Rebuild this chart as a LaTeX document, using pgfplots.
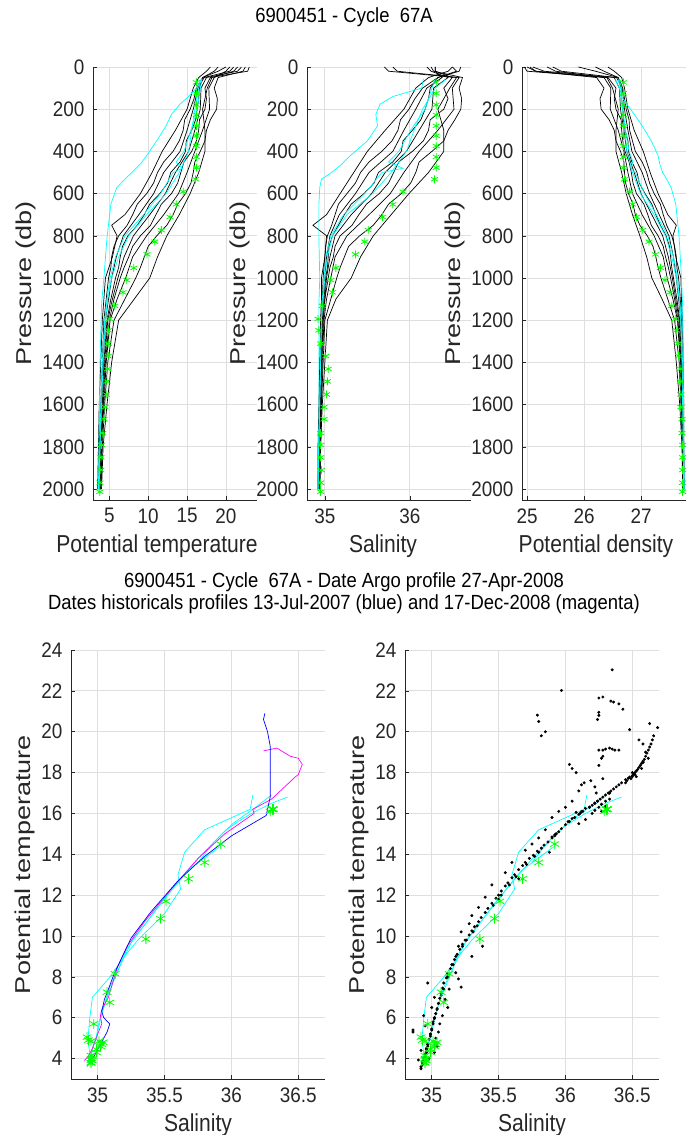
\documentclass[border=0pt]{standalone}
\usepackage{fontspec}
\setmainfont{Liberation Sans}
\newfontfamily\tickfont{Liberation Sans}[FakeStretch=0.9]
\newfontfamily\labfont{Liberation Sans}[FakeStretch=0.86]
\newfontfamily\ylabfont{Liberation Sans}[FakeStretch=1.26]
\newfontfamily\titfont{Liberation Sans}[FakeStretch=0.9]
\usepackage{pgfplots}
\pgfplotsset{compat=1.18}
\usepackage{pgfplotstable}

\definecolor{axgray}{RGB}{38,38,38}
\definecolor{gridgray}{RGB}{223,223,223}
\definecolor{stargreen}{RGB}{0,255,0}
\definecolor{mcyan}{RGB}{0,255,255}
\definecolor{mblue}{RGB}{0,0,255}
\definecolor{mmagenta}{RGB}{255,0,255}

% ---------- historical profiles (black) ----------
\pgfplotstableread{
P T S D
0 18.0 36.50 26.42
20 17.5 36.45 26.53
50 16.5 36.22 26.66
100 15.8 36.07 26.71
200 15.0 35.93 26.77
300 13.5 35.71 26.88
400 11.8 35.50 27.04
500 10.5 35.34 27.16
600 9.0 35.18 27.30
700 7.0 35.02 27.47
750 5.3 34.86 27.62
800 6.0 35.02 27.56
900 5.4 35.00 27.61
1000 4.5 34.96 27.70
1100 4.3 34.96 27.71
1200 4.1 34.95 27.73
1400 3.9 34.94 27.74
1600 3.7 34.93 27.75
1800 3.6 34.92 27.75
2000 3.5 34.92 27.76
}\bA
\pgfplotstableread{
P T S D
0 20.0 36.50 25.90
20 19.0 36.55 26.20
50 17.0 36.33 26.60
100 16.2 36.15 26.68
150 15.9 36.06 26.71
200 15.4 35.99 26.74
250 14.7 35.89 26.79
300 14.5 35.86 26.80
350 14.0 35.79 26.85
400 13.2 35.67 26.90
450 12.0 35.52 27.02
500 11.2 35.42 27.10
550 10.7 35.36 27.15
600 9.8 35.26 27.23
650 8.6 35.16 27.34
700 8.0 35.12 27.39
750 7.3 35.08 27.45
800 6.2 35.03 27.54
850 5.6 35.01 27.59
900 5.3 35.00 27.62
950 5.2 34.99 27.63
1000 4.9 34.98 27.66
1100 4.6 34.97 27.69
1200 4.3 34.96 27.71
1400 4.1 34.95 27.73
1600 3.9 34.94 27.74
1800 3.7 34.93 27.75
2000 3.6 34.92 27.75
}\bB
\pgfplotstableread{
P T S D
0 21.0 36.30 25.45
20 20.5 36.30 25.60
50 17.2 36.38 26.57
100 16.4 36.20 26.67
200 15.8 36.07 26.71
300 15.0 35.93 26.77
400 14.1 35.80 26.84
500 12.0 35.52 27.02
600 10.7 35.36 27.15
700 8.8 35.17 27.32
800 6.8 35.06 27.49
900 5.9 35.02 27.57
1000 5.3 35.00 27.62
1100 4.9 34.98 27.66
1200 4.5 34.96 27.70
1400 4.2 34.95 27.72
1600 4.0 34.94 27.73
1800 3.8 34.93 27.74
2000 3.7 34.93 27.75
}\bC
\pgfplotstableread{
P T S D
0 19.0 36.60 26.20
20 18.5 36.58 26.35
50 17.0 36.33 26.60
100 16.6 36.24 26.65
150 16.5 36.22 26.66
200 16.3 36.18 26.68
250 16.1 36.13 26.69
300 15.6 36.03 26.72
350 14.9 35.92 26.77
400 14.8 35.90 26.78
450 14.1 35.80 26.84
500 12.9 35.63 26.93
550 12.5 35.58 26.97
600 11.5 35.46 27.07
650 10.2 35.31 27.19
700 9.5 35.23 27.26
750 8.6 35.16 27.34
800 7.4 35.09 27.44
850 6.7 35.05 27.50
900 6.4 35.04 27.52
950 6.2 35.03 27.54
1000 5.8 35.01 27.57
1100 5.2 34.99 27.63
1200 4.7 34.97 27.68
1400 4.3 34.96 27.71
1600 4.1 34.95 27.73
1800 3.9 34.94 27.74
2000 3.8 34.93 27.74
}\bD
\pgfplotstableread{
P T S D
0 22.0 36.20 25.10
20 21.5 36.25 25.30
50 17.5 36.45 26.53
100 16.8 36.28 26.62
200 16.7 36.26 26.64
300 16.0 36.11 26.70
400 15.2 35.96 26.75
500 13.5 35.71 26.88
600 12.2 35.55 27.00
700 10.2 35.31 27.19
800 8.1 35.12 27.38
900 6.9 35.06 27.48
1000 6.1 35.02 27.55
1100 5.4 35.00 27.61
1200 4.8 34.98 27.67
1400 4.4 34.96 27.70
1600 4.2 34.95 27.72
1800 3.9 34.94 27.74
2000 3.8 34.93 27.74
}\bE
\pgfplotstableread{
P T S D
0 23.0 36.30 24.95
20 22.8 36.30 25.00
50 18.0 36.50 26.42
100 17.3 36.40 26.56
150 17.5 36.45 26.53
200 17.3 36.40 26.56
250 16.6 36.24 26.65
300 16.5 36.22 26.66
350 16.2 36.16 26.68
400 15.6 36.03 26.72
450 14.6 35.87 26.79
500 14.2 35.81 26.83
550 13.8 35.75 26.86
600 13.0 35.64 26.92
650 11.7 35.49 27.05
700 11.0 35.40 27.12
750 10.3 35.32 27.18
800 9.0 35.18 27.30
850 8.0 35.12 27.39
900 7.5 35.10 27.43
950 6.9 35.06 27.48
1000 6.4 35.04 27.52
1100 5.6 35.00 27.59
1200 5.0 34.98 27.65
1400 4.5 34.96 27.70
1600 4.2 34.95 27.72
1800 4.0 34.94 27.73
2000 3.9 34.94 27.74
}\bF
\pgfplotstableread{
P T S D
0 20.5 35.80 25.35
20 20.0 35.85 25.50
50 18.5 36.58 26.35
100 17.8 36.50 26.47
200 17.9 36.52 26.46
300 17.0 36.33 26.60
400 16.0 36.11 26.70
500 15.0 35.93 26.77
600 13.9 35.77 26.85
700 12.0 35.52 27.02
800 9.8 35.26 27.23
900 8.0 35.12 27.39
1000 7.1 35.07 27.46
1100 6.0 35.02 27.56
1200 5.1 34.99 27.64
1400 4.6 34.97 27.69
1600 4.3 34.96 27.71
1800 4.0 34.94 27.73
2000 3.9 34.94 27.74
}\bG
\pgfplotstableread{
P T S D
0 22.5 36.25 25.05
20 22.2 36.28 25.15
50 19.0 36.62 26.22
100 18.5 36.58 26.35
150 18.9 36.61 26.28
200 18.8 36.60 26.30
250 18.0 36.53 26.44
300 17.5 36.45 26.53
350 17.3 36.40 26.56
400 16.7 36.26 26.64
450 16.0 36.11 26.70
500 15.8 36.07 26.71
550 15.5 36.01 26.73
600 14.8 35.90 26.78
650 13.8 35.75 26.86
700 13.2 35.67 26.90
750 12.4 35.57 26.98
800 11.1 35.41 27.11
850 10.0 35.28 27.21
900 9.5 35.23 27.26
950 9.0 35.18 27.30
1000 8.4 35.14 27.35
1100 7.0 35.07 27.47
1200 5.6 35.00 27.59
1400 4.8 34.98 27.67
1600 4.4 34.96 27.70
1800 4.1 34.95 27.73
2000 3.9 34.94 27.74
}\bH
\pgfplotstableread{
P T S D
0 21.5 35.70 25.00
20 21.0 35.75 25.15
50 18.2 36.55 26.40
100 17.6 36.47 26.50
200 17.0 36.33 26.60
300 17.3 36.40 26.56
400 17.3 36.40 26.56
500 16.5 36.22 26.66
600 15.4 35.99 26.74
700 14.0 35.78 26.85
800 12.4 35.57 26.98
900 11.2 35.42 27.10
1000 10.2 35.31 27.19
1100 8.2 35.13 27.37
1200 6.2 35.03 27.54
1400 5.3 35.00 27.62
1600 4.7 34.97 27.68
1800 4.2 34.95 27.72
2000 4.0 34.94 27.73
}\bI
% ---------- nearest profiles (cyan) ----------
\pgfplotstableread{
P T S D
55 16.9 36.16 26.61
100 16.2 36.14 26.66
140 15.2 35.80 26.66
176 14.1 35.65 26.75
224 13.0 35.60 26.88
279 12.3 35.62 27.02
350 11.1 35.50 27.18
420 9.8 35.30 27.30
460 9.0 35.20 27.33
500 7.9 35.08 27.38
532 7.0 34.96 27.45
572 5.95 34.94 27.53
650 5.2 34.93 27.61
809 4.7 34.93 27.67
1000 4.3 34.94 27.71
1126 4.0 34.93 27.73
1400 3.8 34.93 27.74
1700 3.7 34.93 27.75
2000 3.6 34.92 27.76
}\cA
\pgfplotstableread{
P T S D
60 16.8 36.42 26.55
100 16.5 36.30 26.62
200 16.0 36.15 26.68
300 15.6 36.05 26.72
400 15.2 35.96 26.75
500 14.0 35.78 26.85
600 12.3 35.56 26.99
700 9.8 35.26 27.23
800 7.5 35.09 27.43
900 6.2 35.03 27.54
1000 5.3 35.00 27.62
1100 4.8 34.98 27.67
1200 4.5 34.96 27.70
1400 4.2 34.95 27.72
1600 4.0 34.94 27.73
1800 3.8 34.93 27.74
2000 3.6 34.92 27.75
}\cB
\pgfplotstableread{
P T S D
60 16.9 36.30 26.60
100 16.7 36.26 26.64
200 16.3 36.18 26.68
300 15.5 36.01 26.73
400 14.6 35.87 26.79
450 13.6 35.75 26.86
480 14.4 35.92 26.82
500 13.2 35.67 26.90
600 11.6 35.47 27.06
700 9.4 35.22 27.27
800 7.0 35.07 27.47
900 5.8 35.01 27.57
1000 5.1 34.99 27.64
1100 4.7 34.97 27.68
1200 4.4 34.96 27.70
1400 4.1 34.95 27.73
1600 3.9 34.94 27.74
1800 3.8 34.93 27.74
2000 3.7 34.93 27.75
}\cC
% ---------- Argo profile (green stars) ----------
\pgfplotstableread{
P T S D
73 16.2 36.31 26.69
125 16.2 36.31 26.69
179 16.2 36.31 26.69
227 16.2 36.31 26.69
279 16.2 36.31 26.69
326 16.2 36.31 26.69
374 16.2 36.31 26.69
426 16.2 36.31 26.69
477 16.2 36.31 26.69
532 16.1 36.29 26.71
591 14.5 35.92 26.80
651 13.6 35.80 26.85
711 12.8 35.68 26.92
773 11.7 35.51 27.03
828 10.85 35.47 27.14
888 9.85 35.36 27.25
952 8.15 35.13 27.34
1010 7.25 35.07 27.42
1068 6.75 35.09 27.51
1132 5.7 34.97 27.54
1194 5.05 34.92 27.60
1248 4.9 34.93 27.62
1311 4.85 34.95 27.65
1370 4.85 35.01 27.66
1431 4.8 35.04 27.69
1490 4.7 35.03 27.69
1552 4.6 35.02 27.70
1612 4.45 34.99 27.70
1669 4.3 34.99 27.72
1735 4.15 34.95 27.72
1791 4.0 34.95 27.73
1850 3.93 34.95 27.73
1910 3.9 34.96 27.73
1970 3.8 34.95 27.73
2013 3.78 34.95 27.73
}\argo
% ---------- blue and magenta historical T-S ----------
\pgfplotstableread{
S T
36.25 20.9
36.24 20.6
36.27 20.0
36.29 19.3
36.29 18.0
36.29 16.8
36.26 15.9
36.00 14.9
35.80 13.9
35.60 12.7
35.40 11.2
35.25 9.9
35.17 8.8
35.12 8.1
35.08 7.4
35.05 6.9
35.03 6.3
35.045 6.0
35.09 5.7
35.07 5.3
35.02 4.7
34.98 4.2
34.95 3.9
}\blueTS
\pgfplotstableread{
S T
36.24 19.06
36.34 19.2
36.44 18.8
36.50 18.7
36.53 18.4
36.50 17.9
36.48 17.8
36.30 16.7
36.16 16.2
36.17 16.0
35.95 15.0
35.75 13.8
35.55 12.3
35.35 10.7
35.22 9.5
35.15 8.5
35.12 7.9
35.08 7.0
35.03 6.4
35.02 6.1
35.03 5.7
35.00 5.2
34.96 4.5
34.93 4.1
34.90 3.9
}\magTS
% ---------- historical data points (black dots) ----------
\pgfplotstableread{
S T
36.35 23.03
35.97 22.02
35.79 20.81
35.82 19.80
36.25 21.65
36.28 21.70
36.34 21.50
36.36 21.45
36.40 21.36
36.43 21.10
36.25 20.95
36.25 20.80
36.24 20.60
36.48 20.10
36.63 20.40
36.69 20.20
36.66 19.80
36.65 19.60
36.55 19.60
36.58 19.40
36.25 19.10
36.28 19.10
36.30 19.15
36.33 19.20
36.35 19.15
36.37 19.10
36.40 19.10
36.28 18.80
36.27 18.70
36.25 18.35
36.03 18.40
36.05 18.20
36.08 18.00
36.10 17.10
36.12 17.40
36.14 17.50
36.19 17.60
36.28 17.70
36.22 17.30
36.23 17.00
36.45 17.65
36.47 17.72
36.48 17.78
36.50 17.85
36.51 17.92
36.52 18.00
36.53 18.08
36.54 18.15
36.55 18.25
36.56 18.35
36.57 18.45
36.58 18.55
36.59 18.65
36.60 18.80
36.61 18.95
36.62 19.10
36.63 19.25
36.64 19.40
36.62 18.70
36.57 18.20
36.53 17.80
36.49 17.70
36.46 17.60
36.42 17.50
36.40 17.40
36.38 17.30
36.36 17.20
36.34 17.10
36.32 17.00
36.30 16.90
36.28 16.80
36.26 16.70
36.24 16.60
36.22 16.50
36.20 16.40
36.18 16.30
36.30 16.60
36.33 16.70
36.27 16.45
36.25 16.30
36.22 16.15
36.30 16.35
36.27 16.10
36.20 16.00
36.15 16.25
36.12 16.10
36.10 15.95
36.08 16.05
36.05 15.75
36.02 15.60
36.00 15.45
35.97 15.25
35.95 15.10
35.92 14.95
35.90 14.85
35.87 14.60
35.84 14.45
35.82 14.30
35.79 14.15
35.76 13.95
35.73 13.80
35.70 13.60
35.68 13.45
35.65 13.25
35.62 13.00
35.60 12.85
35.57 12.60
35.55 12.45
35.52 12.20
35.50 12.00
35.48 11.85
35.45 11.60
35.42 11.35
35.40 11.15
35.37 10.90
35.35 10.70
35.32 10.45
35.30 10.25
35.28 10.05
35.25 9.80
35.23 9.60
35.21 9.35
35.19 9.10
35.17 8.85
35.15 8.60
35.14 8.40
35.12 8.15
35.11 7.95
35.09 7.70
35.08 7.45
35.07 7.20
35.06 6.95
35.05 6.70
35.04 6.45
35.03 6.20
35.02 5.95
35.01 5.70
35.00 5.45
34.99 5.20
34.98 4.95
34.97 4.70
34.96 4.45
34.95 4.20
34.94 4.00
34.93 3.85
36.00 16.30
36.05 16.60
35.95 16.10
35.90 15.80
36.15 15.70
36.10 15.50
35.85 15.20
35.80 14.80
35.75 14.50
35.70 14.20
35.88 14.10
35.60 13.60
35.55 13.10
35.65 12.80
35.45 12.50
35.40 11.90
35.35 11.40
35.30 11.00
35.28 10.60
35.22 10.20
35.20 9.50
35.30 9.00
35.38 9.50
35.18 8.20
35.22 7.50
35.20 7.90
35.13 7.40
35.10 6.90
35.12 6.50
35.08 6.10
35.06 5.70
35.05 5.30
34.97 7.70
34.86 5.40
34.90 3.93
34.95 5.60
34.94 6.10
35.00 6.50
35.03 5.00
35.04 4.60
35.02 4.30
34.98 4.00
34.92 4.40
}\blackdots

\pgfplotsset{
  mystyle/.style={
    scale only axis,
    anchor=south west,
    axis x line*=bottom, axis y line*=left,
    axis line style={axgray, line width=0.8pt},
    grid=major, grid style={gridgray, line width=0.8pt},
    tick align=inside, major tick length=4pt,
    tick style={axgray, line width=0.6pt},
    ticklabel style={font=\tickfont\fontsize{21}{24}\selectfont, text=axgray},
    xticklabel style={yshift=-5pt},
    yticklabel style={xshift=-5pt},
    label style={font=\labfont\fontsize{24.5}{27}\selectfont, text=axgray},
    xlabel style={yshift=-4pt},
    ylabel style={font=\ylabfont\fontsize{21.5}{24}\selectfont},
    /pgf/number format/assume math mode=true,
    /pgf/number format/1000 sep={},
    scaled ticks=false,
    clip=true,
  },
  toppanel/.style={mystyle, width=164pt, height=433pt,
    y dir=reverse, ymin=0, ymax=2052, ytick={0,200,...,2000},
    ylabel={Pressure (db)}},
  botpanel/.style={mystyle, width=254pt, height=429pt,
    xmin=34.8, xmax=36.7, ymin=3, ymax=24,
    xtick={35,35.5,36,36.5}, ytick={4,6,...,24},
    xlabel={Salinity}, ylabel={Potential temperature}},
  blk/.style={black, line width=0.7pt},
  cyn/.style={mcyan, line width=0.7pt},
  stars/.style={only marks, mark=asterisk, mark size=4pt, stargreen, mark options={line width=0.8pt}},
  dots/.style={only marks, mark=*, mark size=1.3pt, black},
}

\begin{document}
\begin{tikzpicture}
\useasboundingbox (0,0) rectangle (687pt,1135pt);

\node[font=\titfont\fontsize{20.5}{23}\selectfont, text=black] at (344pt,1118pt) {6900451 - Cycle\ \ 67A};
\node[font=\titfont\fontsize{20.5}{21.5}\selectfont, text=black, align=center] at (344pt,542pt)
  {6900451 - Cycle\ \ 67A - Date Argo profile 27-Apr-2008\\Dates historicals profiles 13-Jul-2007 (blue) and 17-Dec-2008 (magenta)};

% ---- Panel 1: temperature ----
\begin{axis}[toppanel, at={(93pt,635pt)}, xmin=2.9, xmax=24, xtick={5,10,15,20},
  xlabel={Potential temperature}, xlabel style={xshift=-18pt}]
\addplot[blk] table[x=T,y=P] {\bA};
\addplot[blk] table[x=T,y=P] {\bB};
\addplot[blk] table[x=T,y=P] {\bC};
\addplot[blk] table[x=T,y=P] {\bD};
\addplot[blk] table[x=T,y=P] {\bE};
\addplot[blk] table[x=T,y=P] {\bF};
\addplot[blk] table[x=T,y=P] {\bG};
\addplot[blk] table[x=T,y=P] {\bH};
\addplot[blk] table[x=T,y=P] {\bI};
\addplot[cyn] table[x=T,y=P] {\cA};
\addplot[cyn] table[x=T,y=P] {\cB};
\addplot[cyn] table[x=T,y=P] {\cC};
\addplot[stars] table[x=T,y=P] {\argo};
\end{axis}

% ---- Panel 2: salinity ----
\begin{axis}[toppanel, at={(307pt,635pt)}, xmin=34.79, xmax=36.72, xtick={35,36},
  xlabel={Salinity}, xlabel style={xshift=-6pt}]
\addplot[blk] table[x=S,y=P] {\bA};
\addplot[blk] table[x=S,y=P] {\bB};
\addplot[blk] table[x=S,y=P] {\bC};
\addplot[blk] table[x=S,y=P] {\bD};
\addplot[blk] table[x=S,y=P] {\bE};
\addplot[blk] table[x=S,y=P] {\bF};
\addplot[blk] table[x=S,y=P] {\bG};
\addplot[blk] table[x=S,y=P] {\bH};
\addplot[blk] table[x=S,y=P] {\bI};
\addplot[cyn] table[x=S,y=P] {\cA};
\addplot[cyn] table[x=S,y=P] {\cB};
\addplot[cyn] table[x=S,y=P] {\cC};
\addplot[stars] table[x=S,y=P] {\argo};
\end{axis}

% ---- Panel 3: density ----
\begin{axis}[toppanel, at={(522pt,635pt)}, xmin=24.91, xmax=27.79, xtick={25,26,27},
  xlabel={Potential density}, xlabel style={xshift=-8pt}]
\addplot[blk] table[x=D,y=P] {\bA};
\addplot[blk] table[x=D,y=P] {\bB};
\addplot[blk] table[x=D,y=P] {\bC};
\addplot[blk] table[x=D,y=P] {\bD};
\addplot[blk] table[x=D,y=P] {\bE};
\addplot[blk] table[x=D,y=P] {\bF};
\addplot[blk] table[x=D,y=P] {\bG};
\addplot[blk] table[x=D,y=P] {\bH};
\addplot[blk] table[x=D,y=P] {\bI};
\addplot[cyn] table[x=D,y=P] {\cA};
\addplot[cyn] table[x=D,y=P] {\cB};
\addplot[cyn] table[x=D,y=P] {\cC};
\addplot[stars] table[x=D,y=P] {\argo};
\end{axis}

% ---- Bottom left: T-S with blue/magenta ----
\begin{axis}[botpanel, at={(71pt,56pt)}]
\addplot[cyn] table[x=S,y=T] {\cA};
\addplot[cyn] table[x=S,y=T] {\cB};
\addplot[cyn] table[x=S,y=T] {\cC};
\addplot[mmagenta, line width=0.7pt] table[x=S,y=T] {\magTS};
\addplot[mblue, line width=0.7pt] table[x=S,y=T] {\blueTS};
\addplot[stars, mark size=5pt] table[x=S,y=T] {\argo};
\end{axis}

% ---- Bottom right: T-S with historical points ----
\begin{axis}[botpanel, at={(405pt,56pt)}]
\addplot[dots] table[x=S,y=T] {\blackdots};
\addplot[dots] table[x=S,y=T] {\bA};
\addplot[dots] table[x=S,y=T] {\bD};
\addplot[dots] table[x=S,y=T] {\bG};
\addplot[cyn] table[x=S,y=T] {\cA};
\addplot[cyn] table[x=S,y=T] {\cB};
\addplot[cyn] table[x=S,y=T] {\cC};
\addplot[stars, mark size=5pt] table[x=S,y=T] {\argo};
\end{axis}
\end{tikzpicture}
\end{document}
